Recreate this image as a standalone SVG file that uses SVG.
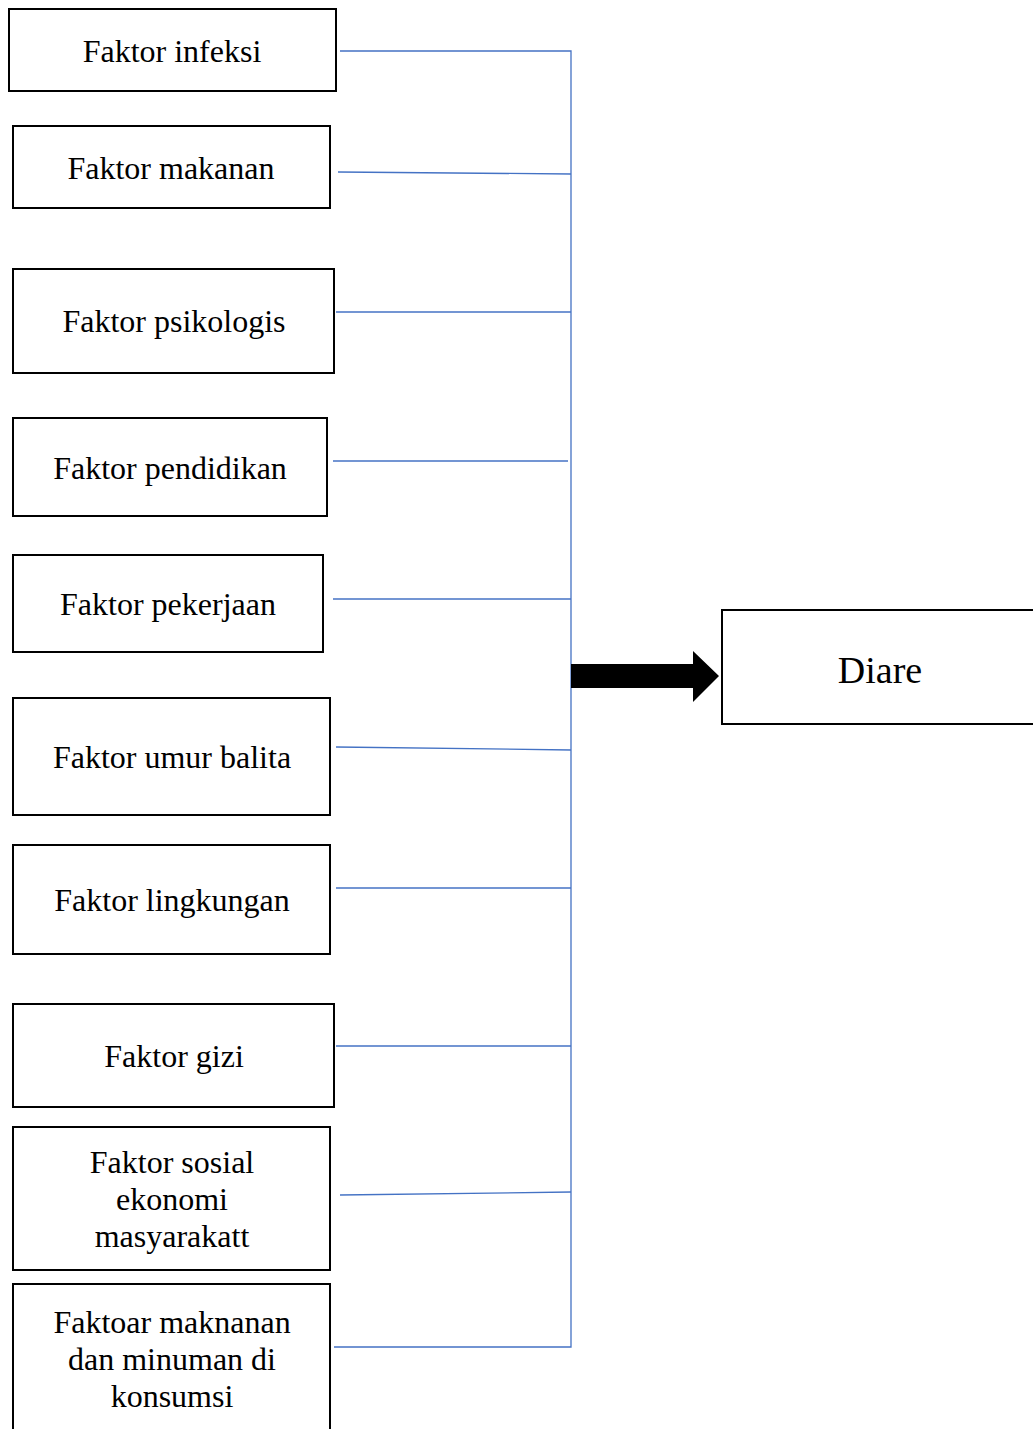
<svg xmlns="http://www.w3.org/2000/svg" width="1033" height="1429" viewBox="0 0 1033 1429">
<style>
.box{fill:#fff;stroke:#000;stroke-width:2}
.t{font-family:"Liberation Serif","Times New Roman",serif;font-size:32px;fill:#000;text-anchor:middle}
.c{stroke:#4472C4;stroke-width:1.3;fill:none}
</style>
<rect width="1033" height="1429" fill="#fff"/>
<g id="connectors">
<polyline class="c" points="340,51 571,51 571,1347 334,1347"/>
<line class="c" x1="338" y1="172" x2="571" y2="174"/>
<line class="c" x1="336" y1="312" x2="571" y2="312"/>
<line class="c" x1="333" y1="461" x2="568" y2="461"/>
<line class="c" x1="333" y1="599" x2="571" y2="599"/>
<line class="c" x1="336" y1="747" x2="571" y2="750"/>
<line class="c" x1="336" y1="888" x2="571" y2="888"/>
<line class="c" x1="336" y1="1046" x2="571" y2="1046"/>
<line class="c" x1="340" y1="1195" x2="571" y2="1192"/>
<polygon points="571,664 693,664 693,651 719,676 693,702 693,688 571,688" fill="#000"/>
</g>
<g id="n1"><rect class="box" x="9" y="9" width="327" height="82"/><text class="t" x="172" y="62">Faktor infeksi</text></g>
<g id="n2"><rect class="box" x="13" y="126" width="317" height="82"/><text class="t" x="171" y="179">Faktor makanan</text></g>
<g id="n3"><rect class="box" x="13" y="269" width="321" height="104"/><text class="t" x="174" y="332">Faktor psikologis</text></g>
<g id="n4"><rect class="box" x="13" y="418" width="314" height="98"/><text class="t" x="170" y="479">Faktor pendidikan</text></g>
<g id="n5"><rect class="box" x="13" y="555" width="310" height="97"/><text class="t" x="168" y="615">Faktor pekerjaan</text></g>
<g id="n6"><rect class="box" x="13" y="698" width="317" height="117"/><text class="t" x="172" y="768">Faktor umur balita</text></g>
<g id="n7"><rect class="box" x="13" y="845" width="317" height="109"/><text class="t" x="172" y="911">Faktor lingkungan</text></g>
<g id="n8"><rect class="box" x="13" y="1004" width="321" height="103"/><text class="t" x="174" y="1067">Faktor gizi</text></g>
<g id="n9"><rect class="box" x="13" y="1127" width="317" height="143"/><text class="t" x="172" y="1173">Faktor sosial</text><text class="t" x="172" y="1210">ekonomi</text><text class="t" x="172" y="1247">masyarakatt</text></g>
<g id="n10"><rect class="box" x="13" y="1284" width="317" height="160"/><text class="t" x="172" y="1333">Faktoar maknanan</text><text class="t" x="172" y="1370">dan minuman di</text><text class="t" x="172" y="1407">konsumsi</text></g>
<g id="diare"><rect class="box" x="722" y="610" width="320" height="114"/><text class="t" x="880" y="683" style="font-size:38px">Diare</text></g>
</svg>
